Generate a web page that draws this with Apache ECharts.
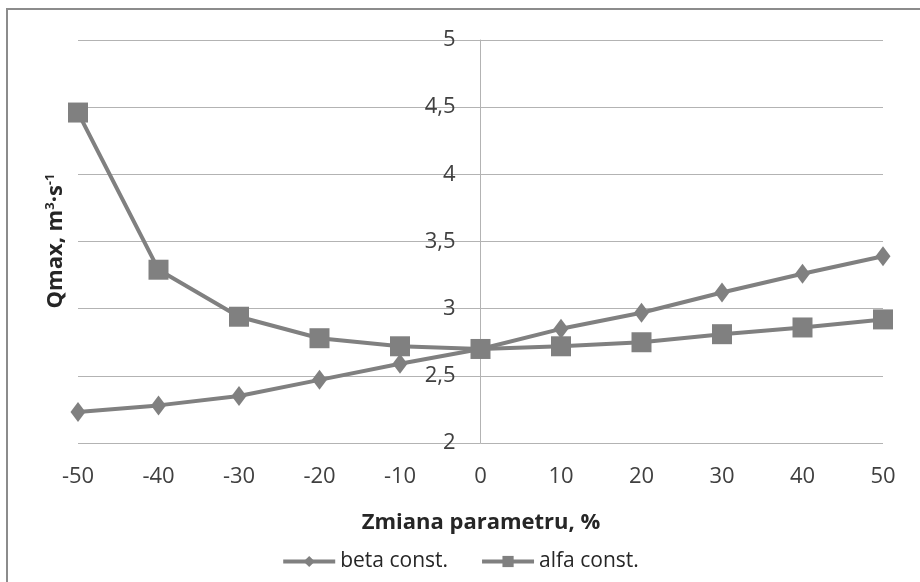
<!DOCTYPE html>
<html lang="pl">
<head>
    <meta charset="UTF-8">
    <title>Qmax</title>
    <script src="https://cdn.jsdelivr.net/npm/echarts@6/dist/echarts.min.js"></script>
    <style>
        html, body { margin: 0; padding: 0; background: #fff; }
        #chart { width: 920px; height: 582px; }
    </style>
</head>
<body>
    <div id="chart"></div>
    <script>
        // zmiana parametru, %
        var zmiana = [-50, -40, -30, -20, -10, 0, 10, 20, 30, 40, 50];
        var betaConst = [2.23, 2.28, 2.35, 2.47, 2.59, 2.70, 2.85, 2.97, 3.12, 3.26, 3.39];
        var alfaConst = [4.46, 3.29, 2.94, 2.78, 2.72, 2.70, 2.72, 2.75, 2.81, 2.86, 2.92];
        var seriesNames = ['beta const.', 'alfa const.'];

        var grey = '#808080';
        var font = 'Open Sans';

        function pairs(ys) {
            var out = [];
            for (var i = 0; i < zmiana.length; i++) out.push([zmiana[i], ys[i]]);
            return out;
        }

        var myChart = echarts.init(document.getElementById('chart'));
        var option = {
            animation: false,
            backgroundColor: '#fff',
            grid: { left: 78, right: 37, top: 40, bottom: 139 },
            graphic: [
                {
                    type: 'rect',
                    shape: { x: 7, y: 9, width: 1000, height: 1000 },
                    style: { fill: 'none', stroke: '#8c8c8c', lineWidth: 2 },
                    silent: true
                },
                {
                    type: 'text',
                    x: 481,
                    y: 523,
                    style: {
                        text: 'Zmiana parametru, %',
                        font: 'bold 22px "Open Sans"',
                        fill: '#262626',
                        align: 'center',
                        verticalAlign: 'middle'
                    }
                },
                {
                    type: 'text',
                    x: 56,
                    y: 241,
                    rotation: Math.PI / 2,
                    style: {
                        text: '{a|Qmax, m}{s|3}{a|·s}{s|-1}',
                        align: 'center',
                        verticalAlign: 'middle',
                        rich: {
                            a: { fontFamily: font, fontSize: 22, fontWeight: 'bold', fill: '#262626' },
                            s: { fontFamily: font, fontSize: 13, fontWeight: 'bold', fill: '#262626', verticalAlign: 'top', padding: [0, 0, 11, 0] }
                        }
                    }
                }
            ],
            legend: {
                bottom: 5,
                left: 'center',
                itemWidth: 52,
                itemHeight: 14,
                itemGap: 32,
                lineStyle: { width: 4 },
                textStyle: { fontFamily: font, fontSize: 21, color: '#262626' },
                data: seriesNames
            },
            xAxis: {
                type: 'value',
                min: -50,
                max: 50,
                interval: 10,
                axisLine: { show: false },
                axisTick: { show: false },
                splitLine: { show: false },
                axisLabel: { margin: 23, fontFamily: font, fontSize: 22, color: '#404040' }
            },
            yAxis: {
                type: 'value',
                min: 2,
                max: 5,
                interval: 0.5,
                position: 'left',
                offset: -402.5,
                axisLine: { show: true, onZero: false, lineStyle: { color: '#b3b3b3', width: 1 } },
                axisTick: { show: false },
                splitLine: { lineStyle: { color: '#b3b3b3', width: 1 } },
                axisLabel: {
                    margin: 25,
                    fontFamily: font,
                    fontSize: 22,
                    color: '#404040',
                    formatter: function (v) { return String(v).replace('.', ','); }
                }
            },
            series: [
                {
                    name: seriesNames[0],
                    type: 'line',
                    data: pairs(betaConst),
                    symbol: 'diamond',
                    symbolSize: [15, 20],
                    lineStyle: { color: grey, width: 4 },
                    itemStyle: { color: grey }
                },
                {
                    name: seriesNames[1],
                    type: 'line',
                    data: pairs(alfaConst),
                    symbol: 'rect',
                    symbolSize: 20,
                    lineStyle: { color: grey, width: 4 },
                    itemStyle: { color: grey }
                }
            ]
        };
        myChart.setOption(option);
    </script>
</body>
</html>
